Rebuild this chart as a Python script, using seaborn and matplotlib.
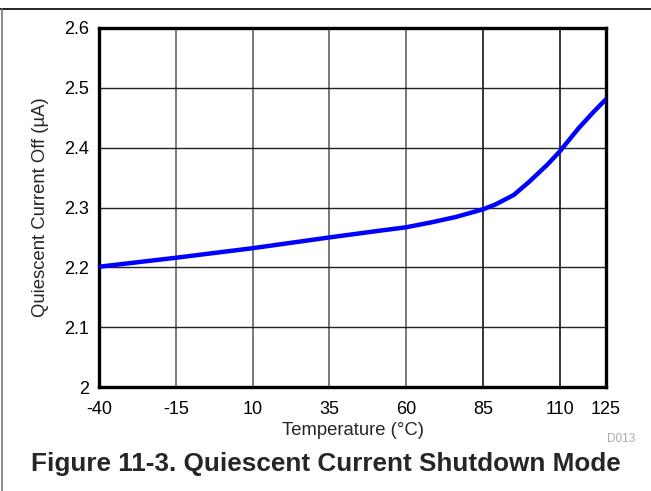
import numpy as np
import pandas as pd
import seaborn as sns
import matplotlib.pyplot as plt
from matplotlib.lines import Line2D

# values
temps = [-40, -15, 10, 35, 51, 60, 68, 76, 85, 89, 95, 100, 106, 110, 116, 121, 125]
iq_off = [2.201, 2.216, 2.232, 2.25, 2.261, 2.267, 2.275, 2.284, 2.297, 2.305, 2.321,
          2.343, 2.372, 2.394, 2.432, 2.46, 2.481]
xticks = [-40, -15, 10, 35, 60, 85, 110, 125]
yticks = [2.0, 2.1, 2.2, 2.3, 2.4, 2.5, 2.6]
ytick_labels = ['2', '2.1', '2.2', '2.3', '2.4', '2.5', '2.6']

df = pd.DataFrame({'temp': temps, 'iq': iq_off})

sns.set_style('white')
plt.rcParams['font.family'] = ['Liberation Sans', 'DejaVu Sans']
plt.rcParams['axes.unicode_minus'] = False

fig = plt.figure(figsize=(6.51, 4.91), dpi=100)
ax = fig.add_axes([99 / 651, 1 - 387 / 491, 507 / 651, 359 / 491])

# grid
for x in xticks[1:-1]:
    ax.axvline(x, color='#555555' if x < 85 else 'black', lw=1.1, zorder=1)
for y in yticks[1:-1]:
    ax.axhline(y, color='#222222', lw=1.0, zorder=1)

sns.lineplot(data=df, x='temp', y='iq', color='#0000ff', lw=3.2, ax=ax, zorder=3)

ax.set_xlim(-40, 125)
ax.set_ylim(2.0, 2.6)
ax.set_xticks(xticks)
ax.set_yticks(yticks)
ax.set_yticklabels(ytick_labels)
ax.tick_params(axis='both', length=0, labelsize=13, colors='black')
ax.tick_params(axis='x', pad=10)
ax.tick_params(axis='y', pad=7)
for s in ax.spines.values():
    s.set_visible(True)
    s.set_color('black')
    s.set_linewidth(2.4)

ax.set_xlabel('Temperature (°C)', fontsize=13.3)
ax.set_ylabel('Quiescent Current Off (µA)', fontsize=13.3)
ax.xaxis.set_label_coords(0.5, (387 - 422) / 359)
ax.yaxis.set_label_coords((41 - 99) / 507, 0.5)
ax.yaxis.label.set_va('center')

# outer frame
fig.add_artist(Line2D([0, 1], [1 - 9 / 491, 1 - 9 / 491], color='black', lw=1.2, transform=fig.transFigure))
fig.add_artist(Line2D([1.5 / 651, 1.5 / 651], [0, 1 - 9 / 491], color='#777777', lw=1.2, transform=fig.transFigure))

fig.text(635 / 651, 1 - 439 / 491, 'D013', fontsize=8.5, color='#aaaaaa', ha='right', va='center')
fig.text(326 / 651, 1 - 464 / 491, 'Figure 11-3. Quiescent Current Shutdown Mode',
         fontsize=18.8, fontweight='bold', ha='center', va='center')

fig.savefig('out.png', dpi=100)
